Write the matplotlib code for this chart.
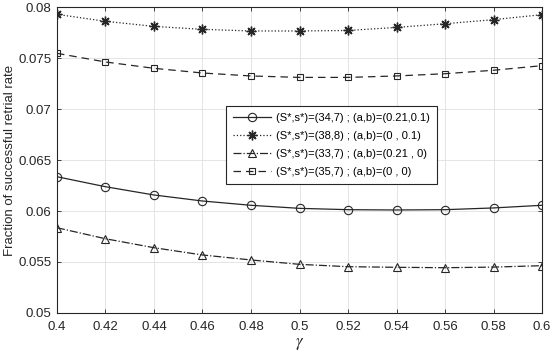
import numpy as np
import matplotlib
matplotlib.use('Agg')
import matplotlib.pyplot as plt

plt.rcParams['font.family'] = ['Liberation Sans', 'DejaVu Sans']
plt.rcParams['mathtext.fontset'] = 'stix'

gamma = [0.40, 0.42, 0.44, 0.46, 0.48, 0.50, 0.52, 0.54, 0.56, 0.58, 0.60]

# (S*,s*)=(34,7) ; (a,b)=(0.21,0.1)
circ = [0.06336, 0.06238, 0.06157, 0.06098, 0.06056, 0.06026, 0.06013, 0.06010, 0.06013, 0.06030, 0.06056]
# (S*,s*)=(38,8) ; (a,b)=(0,0.1)
star = [0.07928, 0.07860, 0.07810, 0.07781, 0.07765, 0.07765, 0.07770, 0.07800, 0.07836, 0.07876, 0.07925]
# (S*,s*)=(33,7) ; (a,b)=(0.21,0)
tri = [0.05836, 0.05728, 0.05640, 0.05569, 0.05520, 0.05477, 0.05454, 0.05448, 0.05444, 0.05450, 0.05464]
# (S*,s*)=(35,7) ; (a,b)=(0,0)
sq = [0.07546, 0.07461, 0.07399, 0.07353, 0.07324, 0.07310, 0.07310, 0.07324, 0.07346, 0.07380, 0.07425]

labels = ['(S*,s*)=(34,7) ; (a,b)=(0.21,0.1)',
          '(S*,s*)=(38,8) ; (a,b)=(0 , 0.1)',
          '(S*,s*)=(33,7) ; (a,b)=(0.21 , 0)',
          '(S*,s*)=(35,7) ; (a,b)=(0 , 0)']

xticks = [0.4, 0.42, 0.44, 0.46, 0.48, 0.5, 0.52, 0.54, 0.56, 0.58, 0.6]
xticklabels = ['0.4', '0.42', '0.44', '0.46', '0.48', '0.5', '0.52', '0.54', '0.56', '0.58', '0.6']
yticks = [0.05, 0.055, 0.06, 0.065, 0.07, 0.075, 0.08]
yticklabels = ['0.05', '0.055', '0.06', '0.065', '0.07', '0.075', '0.08']

fig = plt.figure(figsize=(5.5, 3.56), dpi=100)
ax = fig.add_axes([0.1036, 0.1208, 0.8819, 0.8595])

c = '#262626'
ax.plot(gamma, circ, '-', color=c, lw=0.9, marker='o', ms=6, mfc='none', mew=0.8, label=labels[0])
ax.plot(gamma, star, ':', color=c, lw=0.9, marker=(8, 2, 0), ms=7, mfc=c, mew=1.0, label=labels[1])
ax.plot(gamma, tri, '-.', color=c, lw=0.9, marker='^', ms=6, mfc='none', mew=0.8, label=labels[2])
ax.plot(gamma, sq, '--', color=c, lw=0.9, marker='s', ms=5, mfc='none', mew=0.8, dashes=(6, 4), label=labels[3])

ax.set_xlim(0.4, 0.6)
ax.set_ylim(0.05, 0.08)
ax.set_xticks(xticks)
ax.set_xticklabels(xticklabels)
ax.set_yticks(yticks)
ax.set_yticklabels(yticklabels)
ax.tick_params(labelsize=9.5, colors=c, direction='in', length=3, width=0.6, top=True, right=True)
ax.tick_params(axis='x', pad=6)
ax.tick_params(axis='y', pad=4)
ax.grid(True, color='#e0e0e0', lw=0.6)
ax.set_axisbelow(True)
for s in ax.spines.values():
    s.set_color(c)
    s.set_linewidth(0.8)

ax.set_xlabel(r'$\gamma$', fontsize=12, color=c, labelpad=2)
ax.set_ylabel('Fraction of successful retrial rate', fontsize=9.5, color=c, labelpad=2)

leg = ax.legend(loc='upper left', bbox_to_anchor=(0.336, 0.696), fontsize=8,
                frameon=True, fancybox=False, edgecolor=c, framealpha=1,
                handlelength=3.4, borderpad=0.7, labelspacing=0.7, handletextpad=0.4)
leg.get_frame().set_linewidth(0.8)

fig.savefig('out.png', dpi=100)
